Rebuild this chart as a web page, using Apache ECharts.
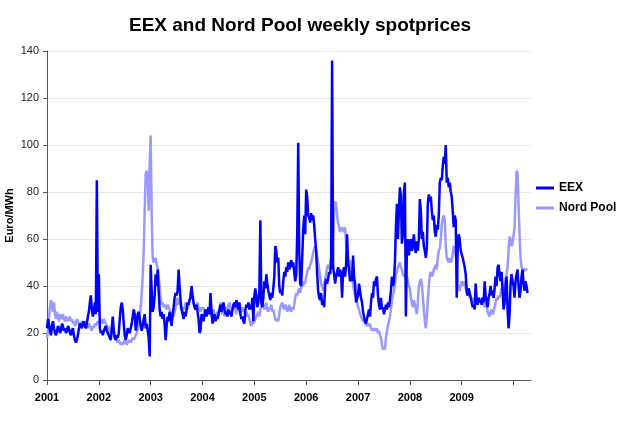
<!DOCTYPE html>
<html><head><meta charset="utf-8">
<script src="https://cdn.jsdelivr.net/npm/echarts@6/dist/echarts.min.js"></script>
<style>html,body{margin:0;padding:0;background:#fff}#c{width:627px;height:429px}</style>
</head><body><div id="c"></div>
<script>
// Year labels on the x axis (each year = 52 weekly points)
const yearLabels = ['2001','2002','2003','2004','2005','2006','2007','2008','2009'];
const weeksPerYear = 52;

// EEX weekly spot prices (Euro/MWh)
const eex2001 = [22,26,24,21,19,23,25,22,20,19,21,23,22,20,21,24,23,21,22,20,21,23,22,20,19,21,22,19,17,16,17,19,22,24,23,22,24,25,23,22,24,27,29,33,36,30,27,29,33,28,85,29];
const eex2002 = [45,22,20,21,19,21,22,23,21,20,19,18,17,22,27,21,18,17,19,18,20,26,31,33,30,24,19,17,19,22,21,20,22,24,27,30,28,21,24,28,29,26,23,21,23,26,28,22,24,21,18,10];
const eex2003 = [49,38,29,31,36,45,40,47,38,30,27,29,26,28,24,17,23,27,25,29,26,23,28,31,35,37,36,38,47,40,34,30,28,26,29,27,30,33,32,34,35,40,36,33,31,30,32,29,26,20,21,28];
const eex2004 = [27,25,28,30,27,29,31,28,37,30,24,26,28,25,27,26,28,30,32,29,31,33,30,28,29,27,30,28,29,27,30,32,33,31,34,32,30,33,28,26,27,25,24,30,32,31,33,30,32,30,35,25];
const eex2005 = [36,39,35,31,33,38,68,33,31,35,42,39,45,41,38,36,34,37,35,39,44,57,55,50,52,40,37,38,36,42,46,44,48,46,50,47,49,51,48,50,46,42,45,62,101,55,41,40,52,64,70,62];
const eex2006 = [81,78,70,69,67,71,68,70,66,60,55,45,38,35,34,37,32,34,31,40,43,41,43,46,45,50,136,48,45,41,44,46,48,44,47,45,35,46,48,44,49,62,50,47,42,44,42,53,44,41,33,33];
const eex2007 = [36,41,38,35,33,29,27,25,24,26,28,30,27,33,37,35,42,40,43,44,36,32,30,35,30,31,28,30,32,30,33,31,34,38,44,40,42,50,65,75,60,72,82,78,58,62,80,84,27,55,60,53];
const eex2008 = [57,60,55,58,62,56,54,59,55,60,77,72,60,63,57,55,52,56,75,79,76,78,72,68,70,63,61,66,64,70,84,86,85,91,95,92,100,84,86,82,84,80,78,72,65,70,68,35,57,62,60,55];
const eex2009 = [55,52,50,48,45,38,36,39,37,35,33,31,32,30,41,34,32,35,33,34,32,35,33,42,36,33,31,35,37,40,36,38,35,39,44,40,48,49,45,42,46,38,30,33,40,44,30,22,28,41,45,42];
const eex2010 = [40,35,42,45,47,40,35,38,44,47,41,38,42,40,37];

// Nord Pool weekly system prices (Euro/MWh)
const nord2001 = [18,21,26,31,34,32,29,33,28,26,29,27,25,28,27,26,28,26,25,27,26,25,26,27,25,26,24,25,23,24,26,25,24,23,24,25,24,23,25,24,23,22,24,23,22,21,23,22,24,23,24,25];
const nord2002 = [24,25,26,25,24,26,25,24,23,22,23,21,20,21,20,19,18,18,17,16,17,16,15,16,15,16,17,16,15,16,16,17,16,17,18,17,18,19,20,22,24,27,31,37,44,55,72,88,89,86,72,92];
const nord2003 = [104,70,52,50,50,52,49,48,44,40,34,32,33,31,32,31,30,32,31,30,27,26,28,27,29,31,33,35,32,34,31,30,29,31,30,33,31,30,32,34,37,38,36,33,31,30,32,33,31,30,29,31];
const nord2004 = [30,31,29,30,28,30,29,31,28,27,29,30,28,26,28,29,27,30,33,30,28,29,27,29,31,30,32,33,31,29,30,32,31,30,28,31,29,30,28,29,31,29,30,28,29,27,28,26,24,23,25,24];
const nord2005 = [24,26,27,28,29,27,30,31,33,32,30,31,33,30,29,31,30,32,29,30,28,26,25,26,25,28,31,32,33,31,30,32,31,29,30,32,30,29,31,30,32,35,37,36,38,39,37,39,41,40,42,41];
const nord2006 = [44,46,48,47,49,50,52,54,56,57,55,53,50,47,44,41,40,38,41,43,45,48,49,47,50,52,55,60,72,76,75,70,67,65,63,64,65,64,63,65,58,54,52,50,51,46,44,41,38,36,35,33];
const nord2007 = [31,30,28,27,26,25,26,24,24,23,24,23,24,22,21,22,21,22,21,22,20,21,19,18,15,13,14,13,18,21,23,25,27,30,34,36,38,41,45,46,48,49,50,48,47,45,44,45,43,44,42,40];
const nord2008 = [39,35,33,31,34,32,30,28,33,40,42,43,41,35,30,25,22,27,34,40,45,46,44,45,47,48,49,47,52,55,56,60,66,69,70,68,57,52,51,50,52,50,51,54,57,55,53,50,41,39,38,40];
const nord2009 = [42,41,40,42,39,37,36,38,35,36,34,33,35,34,32,33,35,34,33,35,34,32,33,31,33,32,29,28,27,29,30,28,29,31,33,35,34,36,35,37,39,40,38,41,43,45,48,55,61,60,57,58];
const nord2010 = [58,65,78,89,88,75,62,52,48,47,46,47,47,47,47];

const eex = [].concat(eex2001,eex2002,eex2003,eex2004,eex2005,eex2006,eex2007,eex2008,eex2009,eex2010);
const nordPool = [].concat(nord2001,nord2002,nord2003,nord2004,nord2005,nord2006,nord2007,nord2008,nord2009,nord2010);

const tickWeeks = [];
for (let k = 0; k <= yearLabels.length; k++) tickWeeks.push(k * weeksPerYear);
const labelWeeks = yearLabels.map((_, k) => k * weeksPerYear);

const chart = echarts.init(document.getElementById('c'), null, {renderer: 'canvas'});
const font = 'Liberation Sans, Arial, Helvetica, sans-serif';
chart.setOption({
  animation: false,
  backgroundColor: '#ffffff',
  textStyle: {fontFamily: font},
  title: {
    text: 'EEX and Nord Pool weekly spotprices',
    left: 129, top: 16, padding: 0,
    textStyle: {fontSize: 19, fontWeight: 'bold', color: '#000', fontFamily: font}
  },
  legend: {
    orient: 'vertical', left: 531, top: 177,
    data: ['EEX', 'Nord Pool'],
    icon: 'rect', itemWidth: 18, itemHeight: 3, itemGap: 8,
    textStyle: {fontSize: 12, fontWeight: 'bold', color: '#000', fontFamily: font}
  },
  grid: {left: 47, right: 96, top: 51, bottom: 49, containLabel: false, outerBoundsMode: 'none'},
  xAxis: {
    type: 'value', min: 0, max: 485.5,
    splitLine: {show: false},
    axisLine: {show: true, lineStyle: {color: '#555', width: 1}},
    axisTick: {show: true, customValues: tickWeeks, length: 5, lineStyle: {color: '#555'}},
    axisLabel: {
      customValues: labelWeeks,
      formatter: v => yearLabels[Math.round(v / weeksPerYear)] || '',
      fontSize: 11, fontWeight: 'bold', color: '#000', margin: 12, fontFamily: font
    }
  },
  yAxis: {
    type: 'value', min: 0, max: 140, interval: 20,
    name: 'Euro/MWh', nameLocation: 'middle', nameGap: 32, nameRotate: 90,
    nameMoveOverlap: false,
    nameTextStyle: {fontSize: 11, fontWeight: 'bold', color: '#000', fontFamily: font},
    axisLine: {show: true, lineStyle: {color: '#555', width: 1}},
    axisTick: {show: true, length: 4, lineStyle: {color: '#555'}},
    splitLine: {show: true, lineStyle: {color: '#e8e8e8', width: 1}},
    axisLabel: {fontSize: 11, color: '#222', margin: 8, fontFamily: font}
  },
  series: [
    {
      name: 'Nord Pool', type: 'line', data: nordPool.map((v, i) => [i, v]),
      showSymbol: false, symbol: 'none', z: 2,
      lineStyle: {color: '#9999FF', width: 2.5}, itemStyle: {color: '#9999FF'}
    },
    {
      name: 'EEX', type: 'line', data: eex.map((v, i) => [i, v]),
      showSymbol: false, symbol: 'none', z: 3,
      lineStyle: {color: '#0000FF', width: 2.5}, itemStyle: {color: '#0000FF'}
    }
  ]
});
</script>
</body></html>
